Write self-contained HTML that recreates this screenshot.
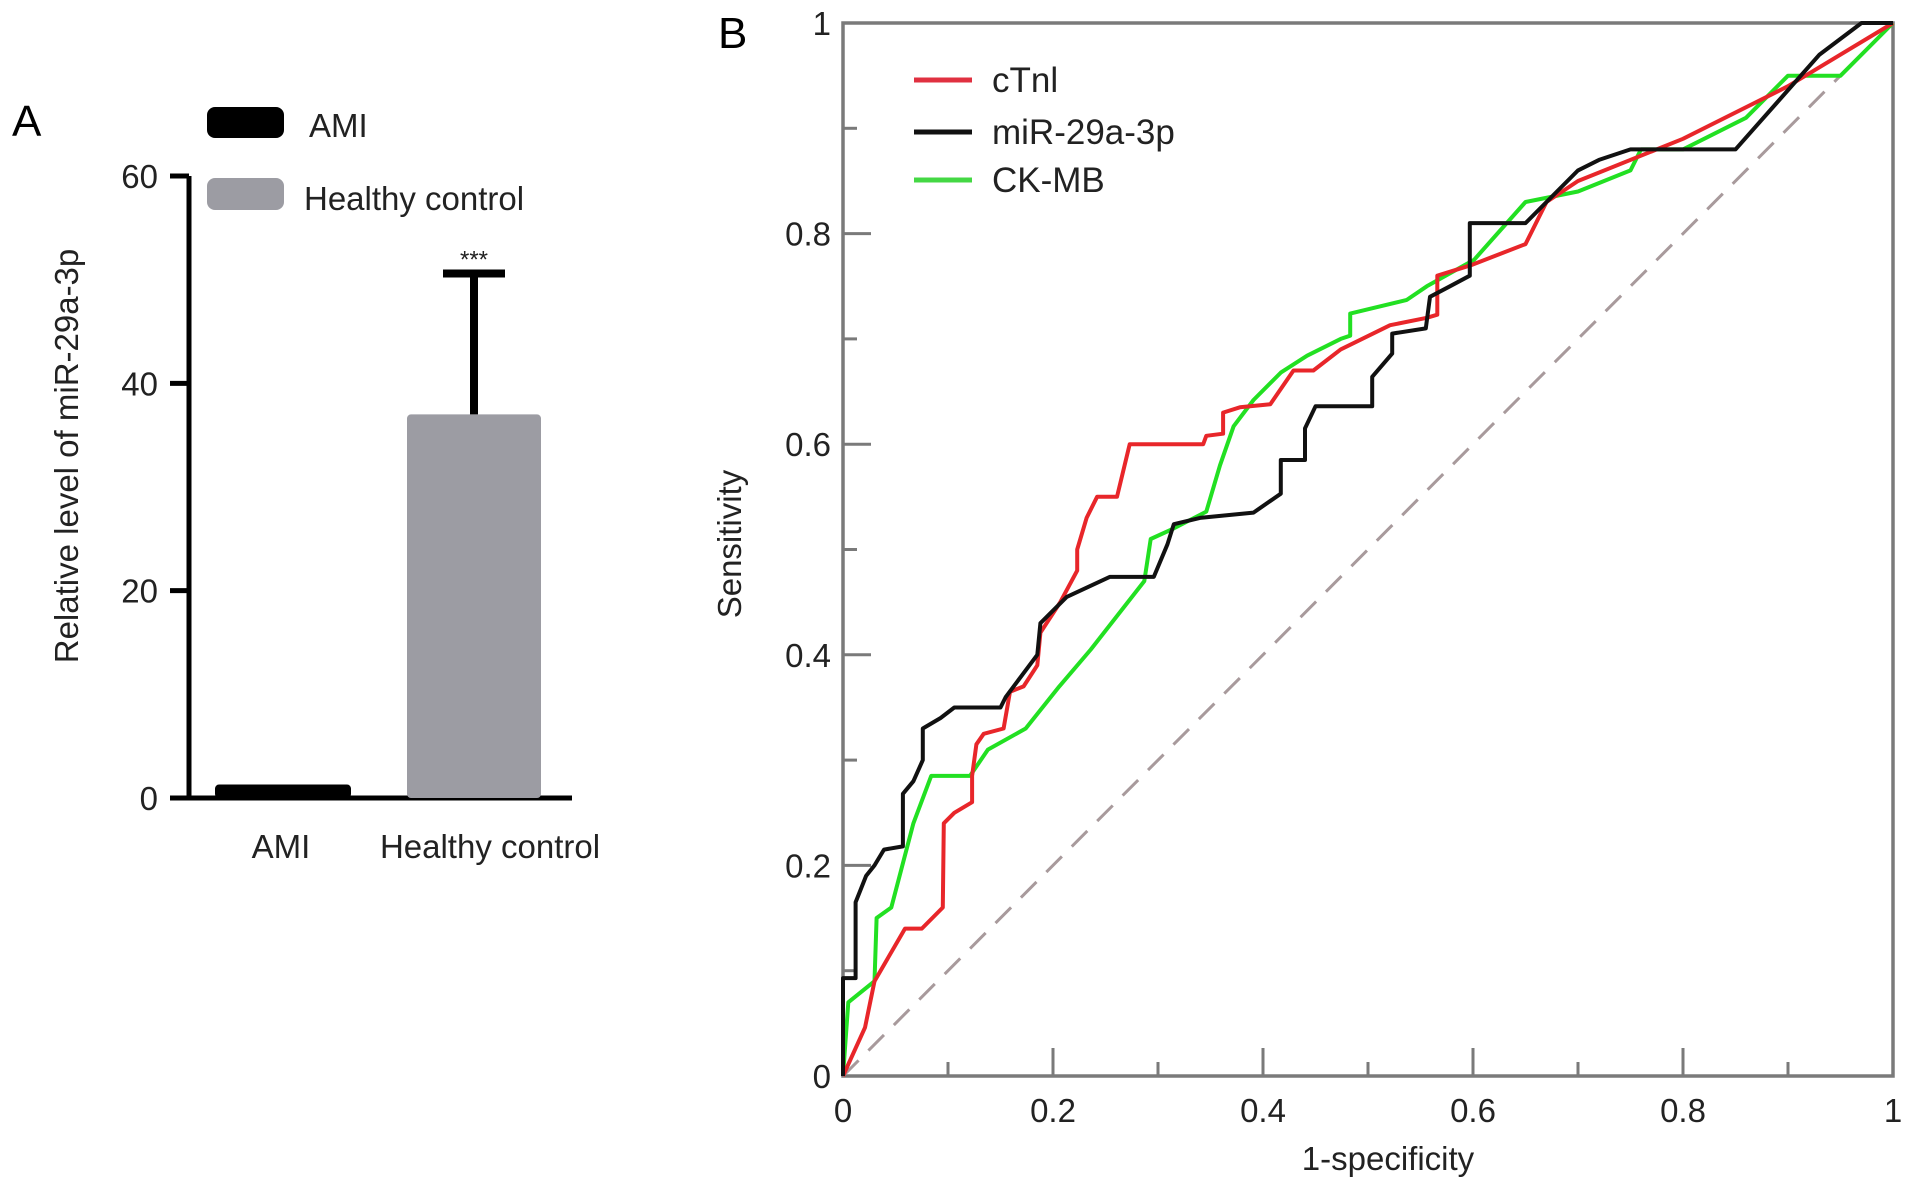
<!DOCTYPE html>
<html><head><meta charset="utf-8"><style>
html,body{margin:0;padding:0;background:#fff}
svg{display:block;font-family:"Liberation Sans",Arial,sans-serif}
</style></head><body>
<svg id="fig" width="1913" height="1189" viewBox="0 0 1913 1189" xmlns="http://www.w3.org/2000/svg">
<text x="12" y="136" font-size="44">A</text>
<text x="718" y="48" font-size="44">B</text>
<g id="panelA"></g>
<g id="panelB"></g>
</svg>
<script>
// Panel A data
const barCategories = ["AMI", "Healthy control"];
const barValues = [1.3, 37];
const barErrors = [0.3, 13.6];
const barTicks = [0, 20, 40, 60];
// Panel B data
const rocSeriesNames = ["cTnl", "miR-29a-3p", "CK-MB"];
const cTnIFpr = [0,0.021,0.03,0.059,0.075,0.095,0.096,0.106,0.123,0.123,0.127,0.134,0.153,0.159,0.172,0.185,0.188,0.207,0.223,0.223,0.232,0.242,0.261,0.273,0.343,0.346,0.362,0.362,0.378,0.407,0.429,0.448,0.474,0.521,0.556,0.566,0.566,0.598,0.65,0.67,0.7,0.8,0.9,1];
const cTnITpr = [0,0.046,0.09,0.14,0.14,0.16,0.24,0.25,0.26,0.285,0.315,0.325,0.33,0.365,0.37,0.39,0.421,0.45,0.48,0.5,0.53,0.55,0.55,0.6,0.6,0.608,0.61,0.63,0.635,0.638,0.67,0.67,0.69,0.713,0.72,0.723,0.76,0.77,0.79,0.83,0.85,0.89,0.94,1];
const mirFpr = [0,0,0.012,0.012,0.022,0.03,0.039,0.057,0.057,0.067,0.076,0.076,0.093,0.106,0.15,0.155,0.17,0.185,0.188,0.213,0.254,0.296,0.309,0.315,0.34,0.391,0.417,0.417,0.44,0.44,0.45,0.504,0.504,0.523,0.523,0.555,0.559,0.578,0.597,0.597,0.65,0.7,0.72,0.75,0.85,0.93,0.97,1];
const mirTpr = [0,0.093,0.093,0.165,0.19,0.2,0.215,0.218,0.268,0.28,0.3,0.33,0.34,0.35,0.35,0.36,0.38,0.4,0.43,0.455,0.474,0.474,0.505,0.524,0.53,0.535,0.553,0.585,0.585,0.615,0.636,0.636,0.664,0.686,0.705,0.71,0.74,0.75,0.76,0.81,0.81,0.86,0.87,0.88,0.88,0.97,1,1];
const ckFpr = [0,0.005,0.03,0.032,0.046,0.067,0.084,0.121,0.138,0.174,0.206,0.236,0.287,0.293,0.315,0.346,0.359,0.372,0.391,0.417,0.442,0.474,0.483,0.483,0.537,0.556,0.601,0.65,0.7,0.75,0.76,0.8,0.86,0.9,0.95,0.98,1];
const ckTpr = [0,0.07,0.09,0.15,0.16,0.24,0.285,0.285,0.31,0.33,0.37,0.405,0.47,0.51,0.52,0.536,0.58,0.617,0.642,0.668,0.684,0.7,0.703,0.724,0.737,0.75,0.775,0.83,0.84,0.86,0.88,0.88,0.91,0.95,0.95,0.98,1];
const rocTicks = [0, 0.2, 0.4, 0.6, 0.8, 1];
const rocTickLabels = ["0", "0.2", "0.4", "0.6", "0.8", "1"];

const NS = "http://www.w3.org/2000/svg";
function mk(parent, tag, attrs, text) {
  const e = document.createElementNS(NS, tag);
  for (const k in attrs) e.setAttribute(k, attrs[k]);
  if (text !== undefined) e.textContent = text;
  parent.appendChild(e);
  return e;
}

// ---- Panel A ----
const A = document.getElementById("panelA");
const aX0 = 189, aY0 = 798, aYtop = 176;
const yA = v => aY0 - (v / 60) * (aY0 - aYtop);
const barX = [[215, 351], [407, 541]];
let el;
el = mk(A, "line", {x1: aX0, y1: aYtop, x2: aX0, y2: aY0 + 2, stroke: "#000", "stroke-width": 5});


el = mk(A, "line", {x1: 170, y1: aY0, x2: 572, y2: aY0, stroke: "#000", "stroke-width": 5});


barTicks.forEach(t => {
  const tk = mk(A, "line", {x1: 170, y1: yA(t), x2: aX0, y2: yA(t), stroke: "#000", "stroke-width": 5});
  
  
  const lb = mk(A, "text", {x: 158, y: yA(t) + 12, "font-size": 33, "text-anchor": "end", fill: "#222"}, String(t));
  
  
});
const colors = ["#000", "#9c9ca3"];
barCategories.forEach((c, i) => {
  const [x1, x2] = barX[i];
  const top = yA(barValues[i]);
  const b = mk(A, "rect", {x: x1, y: top, width: x2 - x1, height: aY0 - top, fill: colors[i], rx: 4});
  
  
  const cx = (x1 + x2) / 2;
  if (i === 1) {
    const et = yA(barValues[i] + barErrors[i]);
    const e1 = mk(A, "line", {x1: cx, y1: top, x2: cx, y2: et, stroke: "#000", "stroke-width": 8});
    
    
    const e2 = mk(A, "line", {x1: cx - 31, y1: et, x2: cx + 31, y2: et, stroke: "#000", "stroke-width": 8});
    
    
    const st = mk(A, "text", {x: cx, y: et - 6, "font-size": 24, "text-anchor": "middle", fill: "#222"}, "***");
    
    
  }
  const lx = i === 0 ? 281 : 490;
  const xl = mk(A, "text", {x: lx, y: 858, "font-size": 33, "text-anchor": "middle", fill: "#222"}, c);
  
  
});
el = mk(A, "text", {x: 0, y: 0, "font-size": 33, "text-anchor": "middle", fill: "#222", transform: "translate(78,456) rotate(-90)"}, "Relative level of miR-29a-3p");


// legend A
el = mk(A, "rect", {x: 207, y: 107, width: 77, height: 31, rx: 8, fill: "#000"});


el = mk(A, "text", {x: 309, y: 137, "font-size": 33, fill: "#222"}, "AMI");


el = mk(A, "rect", {x: 207, y: 178, width: 77, height: 32, rx: 8, fill: "#9c9ca3"});


el = mk(A, "text", {x: 304, y: 210, "font-size": 33, fill: "#222"}, "Healthy control");



// ---- Panel B ----
const B = document.getElementById("panelB");
const bL = 843, bR = 1893, bT = 23, bB = 1076;
const xB = v => bL + v * (bR - bL);
const yB = v => bB - v * (bB - bT);
const ax = "#7a7a7a";
el = mk(B, "rect", {x: bL, y: bT, width: bR - bL, height: bB - bT, fill: "none", stroke: ax, "stroke-width": 3.5});


for (let k = 1; k < 10; k++) {
  const len = k % 2 === 0 ? 28 : 14;
  const v = k / 10;
  const t1 = mk(B, "line", {x1: xB(v), y1: bB, x2: xB(v), y2: bB - len, stroke: ax, "stroke-width": 3});
  
  
  const t2 = mk(B, "line", {x1: bL, y1: yB(v), x2: bL + len, y2: yB(v), stroke: ax, "stroke-width": 3});
  
  
}
rocTicks.forEach((t, i) => {
  const xl = mk(B, "text", {x: xB(t), y: 1122, "font-size": 33, "text-anchor": "middle", fill: "#222"}, rocTickLabels[i]);
  
  
  const yl = mk(B, "text", {x: 831, y: yB(t) + 12, "font-size": 33, "text-anchor": "end", fill: "#222"}, rocTickLabels[i]);
  
  
});
el = mk(B, "text", {x: 1388, y: 1170, "font-size": 33, "text-anchor": "middle", fill: "#222"}, "1-specificity");


el = mk(B, "text", {x: 0, y: 0, "font-size": 33, "text-anchor": "middle", fill: "#222", transform: "translate(741,544) rotate(-90)"}, "Sensitivity");


el = mk(B, "line", {x1: xB(0), y1: yB(0), x2: xB(1), y2: yB(1), stroke: "#a89a9c", "stroke-width": 3, "stroke-dasharray": "22,14"});


const series = [[ckFpr, ckTpr, "#22e022", "roc-ck-mb"], [cTnIFpr, cTnITpr, "#e8262a", "roc-ctni"], [mirFpr, mirTpr, "#111", "roc-mir-29a-3p"]];
series.forEach(([xs, ys, col, nm]) => {
  const d = xs.map((x, i) => (i ? "L" : "M") + xB(x).toFixed(1) + "," + yB(ys[i]).toFixed(1)).join(" ");
  const p = mk(B, "path", {d: d, fill: "none", stroke: col, "stroke-width": 4, "stroke-linejoin": "round"});
  
  
});
const legCols = ["#e03040", "#111", "#44d844"];
const legY = [80, 132, 180];
rocSeriesNames.forEach((n, i) => {
  const l = mk(B, "line", {x1: 914, y1: legY[i], x2: 972, y2: legY[i], stroke: legCols[i], "stroke-width": 5});
  
  
  const t = mk(B, "text", {x: 992, y: legY[i] + 12, "font-size": 35, fill: "#222"}, n);
  
  
});
</script>
</body></html>
